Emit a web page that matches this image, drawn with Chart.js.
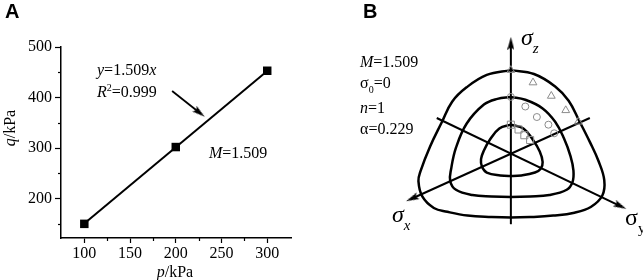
<!DOCTYPE html>
<html>
<head>
<meta charset="utf-8">
<script src="https://cdn.jsdelivr.net/npm/chart.js@4/dist/chart.umd.min.js"></script>
<style>
  html, body { margin: 0; padding: 0; background: #fff; }
  #boxA { position: absolute; left: 0; top: 0; width: 320px; height: 280px; }
  #boxB { position: absolute; left: 320px; top: 0; width: 323px; height: 280px; }
</style>
</head>
<body>
<div id="boxA"><canvas id="chartA" width="320" height="280"></canvas></div>
<div id="boxB"><canvas id="chartB" width="323" height="280"></canvas></div>
<script>
// ---- panel A : q-p test points and fitted line ----
var pressure = [100, 200, 300];
var deviator = [150, 302, 453];
var fitP = [100, 300];
var fitQ = [150.9, 452.7];
var xTicksA = [100, 150, 200, 250, 300];
var yTicksA = [200, 300, 400, 500];
var xMinorA = [125, 175, 225, 275];
var yMinorA = [150, 250, 350, 450];
var arrowP = [196, 226];
var arrowQ = [413, 370];

// ---- panel B : yield curves on the deviatoric plane ----
var outerX = [0, 24, 46, 60, 71, 82, 91, 97, 95, 83, 66, 44, 20, 0, -20, -45, -66, -80, -92, -96, -94, -84, -72, -61, -46, -25, 0];
var outerY = [88, 84, 71, 56, 35, 13, -7, -27, -43, -55, -61, -64, -65.5, -66, -65.5, -64, -60, -56, -44, -28, -18, 8, 33, 55, 70, 83, 88];
var middleX = [0, 15, 33, 46, 55, 62, 65, 64, 58, 40, 20, 0, -20, -40, -57, -63, -62, -57, -46, -28, -14, 0];
var middleY = [60, 57, 48, 34, 17, -2, -17, -29, -37, -42.5, -44, -44.5, -44, -42.5, -37, -28, -15, 7, 32, 52, 58, 60];
var innerX = [0, 13, 23, 30, 33, 31, 25, 11, 0, -11, -25, -30, -31, -28, -22, -12, 0];
var innerY = [31, 27, 15, 3, -8, -15, -19, -22, -22.5, -22, -19, -13, -5, 4, 15, 27, 31];
var triX = [0, 23, 42, 57, 70];
var triY = [88, 75, 61, 46, 34];
var circX = [0, 15, 27, 39, 45];
var circY = [60, 50, 39, 31, 22];
var sqX = [0, 8, 14, 20];
var sqY = [31, 26, 20, 15];
var axisZX = [0, 0], axisZY = [-73, 116];
var axisXX = [82, -102.6], axisXY = [38, -46.1];
var axisYX = [-77, 113.7], axisYY = [38, -54];

function pts(xs, ys) {
  return xs.map(function (x, i) { return { x: x, y: ys[i] }; });
}

// narrow filled arrow head, apex up
var head = document.createElement('canvas');
head.width = 7; head.height = 13;
(function () {
  var c = head.getContext('2d');
  c.fillStyle = '#000';
  c.beginPath();
  c.moveTo(3.5, 0); c.lineTo(7, 13); c.lineTo(3.5, 10.5); c.lineTo(0, 13);
  c.closePath(); c.fill();
})();

var SERIF = '"Liberation Serif", "Times New Roman", serif';

// draw text made of parts: [text, style] style: '', 'i', 'sub', 'isub', 'sup'
function rich(ctx, x, y, parts, size) {
  ctx.save();
  ctx.fillStyle = '#000';
  ctx.textBaseline = 'alphabetic';
  ctx.textAlign = 'left';
  parts.forEach(function (p) {
    var st = p[1] || '';
    var small = st.indexOf('sub') >= 0 || st === 'sup';
    var fs = small ? Math.round(size * 0.62) : size;
    ctx.font = (st.charAt(0) === 'i' ? 'italic ' : '') + fs + 'px ' + SERIF;
    var dy = 0;
    if (st.indexOf('sub') >= 0) dy = size * 0.32;
    if (st === 'sup') dy = -size * 0.4;
    ctx.fillText(p[0], x, y + dy);
    x += ctx.measureText(p[0]).width;
  });
  ctx.restore();
}

function richWidth(ctx, parts, size) {
  var w = 0;
  ctx.save();
  parts.forEach(function (p) {
    var st = p[1] || '';
    var small = st.indexOf('sub') >= 0 || st === 'sup';
    var fs = small ? Math.round(size * 0.62) : size;
    ctx.font = (st.charAt(0) === 'i' ? 'italic ' : '') + fs + 'px ' + SERIF;
    w += ctx.measureText(p[0]).width;
  });
  ctx.restore();
  return w;
}

var whiteBg = {
  id: 'whiteBg',
  beforeDraw: function (chart) {
    var ctx = chart.ctx;
    ctx.save();
    ctx.fillStyle = 'white';
    ctx.fillRect(0, 0, chart.width, chart.height);
    ctx.restore();
  }
};

var textA = {
  id: 'textA',
  afterDraw: function (chart) {
    var ctx = chart.ctx, xs = chart.scales.x, ys = chart.scales.y;
    var area = chart.chartArea;
    ctx.save();
    ctx.strokeStyle = '#000';
    ctx.lineWidth = 1.2;
    xMinorA.forEach(function (v) {
      var px = Math.round(xs.getPixelForValue(v)) + 0.5;
      ctx.beginPath(); ctx.moveTo(px, area.bottom); ctx.lineTo(px, area.bottom + 3); ctx.stroke();
    });
    yMinorA.forEach(function (v) {
      var py = Math.round(ys.getPixelForValue(v)) + 0.5;
      ctx.beginPath(); ctx.moveTo(area.left, py); ctx.lineTo(area.left - 3, py); ctx.stroke();
    });
    ctx.fillStyle = '#000';
    ctx.font = 'bold 20px "Liberation Sans", Arial, sans-serif';
    ctx.fillText('A', 5, 18);
    ctx.restore();

    rich(ctx, 97, 75, [['y', 'i'], ['=1.509'], ['x', 'i']], 16);
    rich(ctx, 97, 97, [['R', 'i'], ['2', 'sup'], ['=0.999']], 16);
    rich(ctx, 209, 158, [['M', 'i'], ['=1.509']], 16);

    var xt = [['p', 'i'], ['/kPa']];
    rich(ctx, 175 - richWidth(ctx, xt, 16) / 2, 277, xt, 16);
    var yt = [['q', 'i'], ['/kPa']];
    ctx.save();
    ctx.translate(15, 128);
    ctx.rotate(-Math.PI / 2);
    rich(ctx, -richWidth(ctx, yt, 16) / 2, 0, yt, 16);
    ctx.restore();
  }
};

var textB = {
  id: 'textB',
  afterDraw: function (chart) {
    var ctx = chart.ctx;
    ctx.save();
    ctx.fillStyle = '#000';
    ctx.font = 'bold 20px "Liberation Sans", Arial, sans-serif';
    ctx.fillText('B', 43, 18);
    ctx.restore();
    rich(ctx, 40, 67, [['M', 'i'], ['=1.509']], 16);
    rich(ctx, 40, 88, [['\u03c3'], ['0', 'sub'], ['=0']], 16);
    rich(ctx, 40, 113, [['n', 'i'], ['=1']], 16);
    rich(ctx, 40, 134, [['\u03b1=0.229']], 16);
    rich(ctx, 201, 45, [['\u03c3', 'i'], ['z', 'isub']], 24);
    rich(ctx, 72, 222, [['\u03c3', 'i'], ['x', 'isub']], 24);
    rich(ctx, 305, 225, [['\u03c3'], ['y', 'sub']], 24);
  }
};

var chartA = new Chart(document.getElementById('chartA'), {
  type: 'scatter',
  data: {
    datasets: [
      {
        label: 'test',
        data: pts(pressure, deviator),
        pointStyle: 'rect',
        pointRadius: 6,
        backgroundColor: '#000',
        borderColor: '#000',
        borderWidth: 0
      },
      {
        label: 'fit',
        data: pts(fitP, fitQ),
        showLine: true,
        borderColor: '#000',
        borderWidth: 2,
        pointRadius: 0
      },
      {
        label: 'arrow',
        data: pts(arrowP, arrowQ),
        showLine: true,
        borderColor: '#000',
        borderWidth: 1.8,
        pointRadius: [0, 4],
        pointStyle: ['circle', head],
        pointRotation: [0, 128]
      }
    ]
  },
  options: {
    animation: false,
    responsive: false,
    layout: { padding: { top: 47, right: 29, left: 0, bottom: 0 } },
    plugins: { legend: { display: false }, tooltip: { enabled: false } },
    scales: {
      x: {
        type: 'linear',
        min: 74.5,
        max: 326,
        afterBuildTicks: function (s) { s.ticks = xTicksA.map(function (v) { return { value: v }; }); },
        afterFit: function (s) { s.height = 42; },
        grid: { drawOnChartArea: false, tickLength: 5, color: '#000', tickWidth: 1.2 },
        border: { color: '#000', width: 1.5 },
        ticks: { color: '#000', font: { family: SERIF, size: 16 }, padding: 1, maxRotation: 0 }
      },
      y: {
        type: 'linear',
        min: 122,
        max: 500,
        afterBuildTicks: function (s) { s.ticks = yTicksA.map(function (v) { return { value: v }; }); },
        afterFit: function (s) { s.width = 61; },
        grid: { drawOnChartArea: false, tickLength: 6, color: '#000', tickWidth: 1.2 },
        border: { color: '#000', width: 1.5 },
        ticks: { color: '#000', font: { family: SERIF, size: 16 }, padding: 3 }
      }
    }
  },
  plugins: [whiteBg, textA]
});

var grey = '#8c8c8c';
var chartB = new Chart(document.getElementById('chartB'), {
  type: 'scatter',
  data: {
    datasets: [
      { label: 'tri', data: pts(triX, triY), pointStyle: 'triangle', pointRadius: 4.5, borderColor: grey, backgroundColor: 'rgba(0,0,0,0)', borderWidth: 1 },
      { label: 'circ', data: pts(circX, circY), pointStyle: 'circle', pointRadius: 3.5, borderColor: grey, backgroundColor: 'rgba(0,0,0,0)', borderWidth: 1 },
      { label: 'sq', data: pts(sqX, sqY), pointStyle: 'rect', pointRadius: 5, borderColor: grey, backgroundColor: 'rgba(0,0,0,0)', borderWidth: 1 },
      { label: 'z', data: pts(axisZX, axisZY), showLine: true, borderColor: '#000', borderWidth: 2, pointRadius: [0, 4], pointStyle: ['circle', head], pointRotation: [0, 0] },
      { label: 'x', data: pts(axisXX, axisXY), showLine: true, borderColor: '#000', borderWidth: 2, pointRadius: [0, 4], pointStyle: ['circle', head], pointRotation: [0, -114.2] },
      { label: 'y', data: pts(axisYX, axisYY), showLine: true, borderColor: '#000', borderWidth: 2, pointRadius: [0, 4], pointStyle: ['circle', head], pointRotation: [0, 115.4] },
      { label: 'outer', data: pts(outerX, outerY), showLine: true, tension: 0.4, borderColor: '#000', borderWidth: 2.5, pointRadius: 0 },
      { label: 'middle', data: pts(middleX, middleY), showLine: true, tension: 0.4, borderColor: '#000', borderWidth: 2.5, pointRadius: 0 },
      { label: 'inner', data: pts(innerX, innerY), showLine: true, tension: 0.4, borderColor: '#000', borderWidth: 2.5, pointRadius: 0 }
    ]
  },
  options: {
    animation: false,
    responsive: false,
    layout: { padding: 0 },
    plugins: { legend: { display: false }, tooltip: { enabled: false } },
    scales: {
      x: { type: 'linear', min: -192, max: 131, display: false },
      y: { type: 'linear', min: -125, max: 155, display: false }
    }
  },
  plugins: [whiteBg, textB]
});
</script>
</body>
</html>
